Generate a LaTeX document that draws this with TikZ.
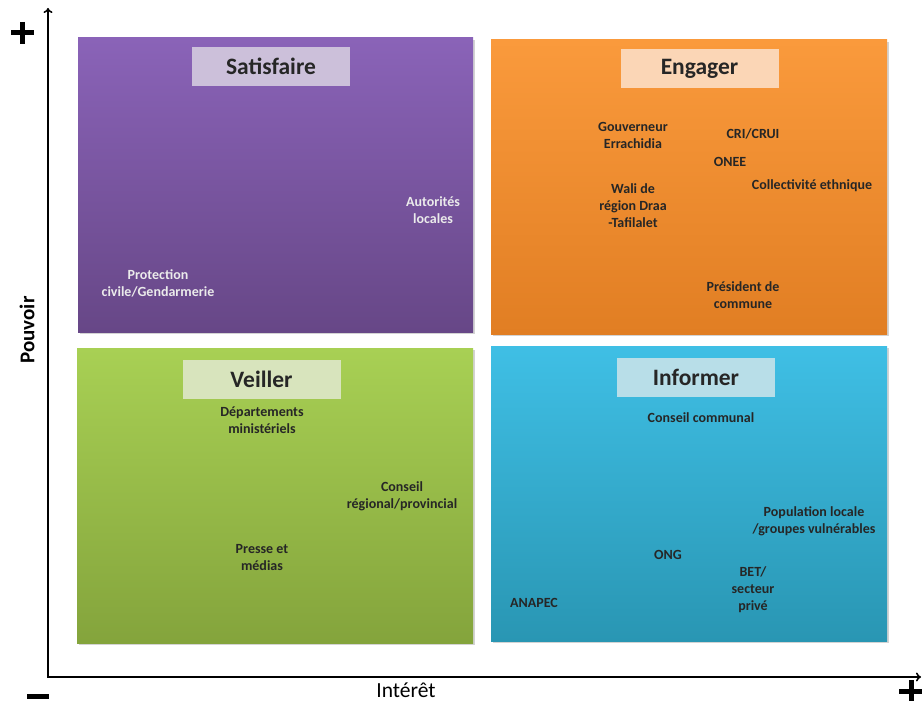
\documentclass[tikz,border=0pt]{standalone}
\usepackage{fontspec}
\setmainfont{Carlito}
\usetikzlibrary{arrows.meta,shadows}
\definecolor{purT}{HTML}{8A63B8}
\definecolor{purB}{HTML}{674787}
\definecolor{oraT}{HTML}{FA9A3C}
\definecolor{oraB}{HTML}{E17E23}
\definecolor{griT}{HTML}{A8D054}
\definecolor{griB}{HTML}{84A43C}
\definecolor{bluT}{HTML}{3FBFE5}
\definecolor{bluB}{HTML}{2996B3}
\definecolor{purL}{HTML}{CCC0DA}
\definecolor{oraL}{HTML}{FBD6B6}
\definecolor{griL}{HTML}{D8E4BD}
\definecolor{bluL}{HTML}{B8DEE8}
\tikzset{
  quad/.style={draw=none, drop shadow={shadow xshift=2pt,shadow yshift=-2pt,opacity=.35}},
  ttl/.style={inner sep=0pt, minimum width=158pt, minimum height=39pt, font=\fontsize{23.5}{26}\selectfont\bfseries, text=black!85},
  lbl/.style={align=center, font=\fontsize{14}{17}\selectfont\bfseries, text=black!85, inner sep=0pt},
  wlbl/.style={lbl, text=white!92!black},
  axis/.style={line width=1.6pt, -{To[length=5pt,width=9pt]}},
  sign/.style={line width=5pt, black}
}
\begin{document}
\begin{tikzpicture}[x=1pt,y=-1pt]
\useasboundingbox (0,0) rectangle (922,701);
% quadrants
\shade[quad, top color=purT, bottom color=purB] (78,38) rectangle (473,332);
\shade[quad, top color=oraT, bottom color=oraB] (491,40) rectangle (887,334);
\shade[quad, top color=griT, bottom color=griB] (77,348) rectangle (473,643);
\shade[quad, top color=bluT, bottom color=bluB] (491,346) rectangle (887,641);
% titles
\node[ttl, fill=purL] (tS) at (271,66.5) {Satisfaire};
\node[ttl, fill=oraL] (tE) at (699.5,68.5) {Engager};
\node[ttl, fill=griL] (tV) at (261.5,379) {Veiller};
\node[ttl, fill=bluL] (tI) at (696,377.5) {Informer};
% purple labels
\node[wlbl] (a1) at (433,210) {Autorités\\locales};
\node[wlbl] (a2) at (158,283) {Protection\\civile/Gendarmerie};
% orange labels
\node[lbl] (b1) at (633,135) {Gouverneur\\Errachidia};
\node[lbl] (b2) at (753,134) {CRI/CRUI};
\node[lbl] (b3) at (730,162) {ONEE};
\node[lbl] (b4) at (812,186) {Collectivité ethnique};
\node[lbl] (b5) at (633,206) {Wali de\\région Draa\\-Tafilalet};
\node[lbl] (b6) at (743,295) {Président de\\commune};
% green labels
\node[lbl] (c1) at (262,420) {Départements\\ministériels};
\node[lbl] (c2) at (402,496) {Conseil\\régional/provincial};
\node[lbl] (c3) at (262,558) {Presse et\\médias};
% blue labels
\node[lbl] (d1) at (701,418) {Conseil communal};
\node[lbl] (d2) at (814,521) {Population locale\\/groupes vulnérables};
\node[lbl] (d3) at (668,555) {ONG};
\node[lbl] (d4) at (753,590) {BET/\\secteur\\privé};
\node[lbl] (d5) at (534,603) {ANAPEC};
% axes
\coordinate (O) at (48,677);
\coordinate (Ytop) at (48,8);
\coordinate (Xend) at (921,677);
\draw[axis] (O) -- (Ytop);
\draw[axis] ([xshift=-0.8pt]O) -- (Xend);
\node[rotate=90, font=\fontsize{21}{24}\selectfont\bfseries] (py) at (27,330) {Pouvoir};
\node[font=\fontsize{21.5}{24}\selectfont] (ix) at (406,690) {Intérêt};
% signs
\draw[sign] (11,33) -- (34,33);
\draw[sign] (22.5,22) -- (22.5,44);
\draw[sign] (27,696) -- (49,696);
\draw[sign] (899,691) -- (922,691);
\draw[sign] (911,680) -- (911,701);
\end{tikzpicture}
\end{document}
